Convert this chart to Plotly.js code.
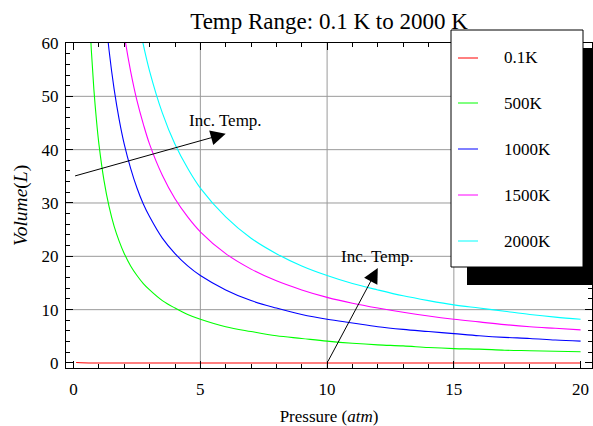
<!DOCTYPE html>
<html>
<head>
<meta charset="utf-8">
<script src="https://cdn.plot.ly/plotly-3.0.1.min.js"></script>
<style>html,body{margin:0;padding:0;background:#fff;}#chart{width:593px;height:426px;}</style>
</head>
<body>
<div id="chart"></div>
<script>
// Pressure (atm) sample points
const pressure = [0.1, 0.6, 0.7, 0.8, 0.9, 1.0, 1.2, 1.4, 1.6, 1.8, 2.0, 2.25, 2.5, 2.75, 3, 3.5, 4, 4.5, 5, 6, 7, 8, 9, 10, 11, 12, 13, 14, 15, 16, 17, 18, 19, 20];
// Volume (L) read for each temperature
const vol_01K   = [0.08, 0.01, 0.01, 0.01, 0.01, 0.01, 0.01, 0.01, 0.01, 0.0, 0.0, 0.0, 0.0, 0.0, 0.0, 0.0, 0.0, 0.0, 0.0, 0.0, 0.0, 0.0, 0.0, 0.0, 0.0, 0.0, 0.0, 0.0, 0.0, 0.0, 0.0, 0.0, 0.0, 0.0];
const vol_500K  = [null, 68.4, 58.6, 51.3, 45.6, 41.0, 34.2, 29.3, 25.6, 22.8, 20.5, 18.2, 16.4, 14.9, 13.7, 11.7, 10.3, 9.1, 8.2, 6.8, 5.9, 5.1, 4.6, 4.1, 3.7, 3.4, 3.2, 2.9, 2.7, 2.6, 2.4, 2.3, 2.2, 2.1];
const vol_1000K = [null, null, null, null, null, null, 68.4, 58.6, 51.3, 45.6, 41.0, 36.5, 32.8, 29.8, 27.4, 23.4, 20.5, 18.2, 16.4, 13.7, 11.7, 10.3, 9.1, 8.2, 7.5, 6.8, 6.3, 5.9, 5.5, 5.1, 4.8, 4.6, 4.3, 4.1];
const vol_1500K = [null, null, null, null, null, null, null, null, null, 68.4, 61.5, 54.7, 49.2, 44.8, 41.0, 35.2, 30.8, 27.4, 24.6, 20.5, 17.6, 15.4, 13.7, 12.3, 11.2, 10.3, 9.5, 8.8, 8.2, 7.7, 7.2, 6.8, 6.5, 6.2];
const vol_2000K = [null, null, null, null, null, null, null, null, null, null, null, null, 65.6, 59.7, 54.7, 46.9, 41.0, 36.5, 32.8, 27.4, 23.4, 20.5, 18.2, 16.4, 14.9, 13.7, 12.6, 11.7, 10.9, 10.3, 9.7, 9.1, 8.6, 8.2];

const seriesNames = ['0.1K', '500K', '1000K', '1500K', '2000K'];
const seriesValues = [vol_01K, vol_500K, vol_1000K, vol_1500K, vol_2000K];
const seriesColors = ['#ff0000', '#00ff00', '#0000ff', '#ff00ff', '#00ffff'];

const xTicks = [0, 5, 10, 15, 20];
const yTicks = [0, 10, 20, 30, 40, 50, 60];
const xGrid = [5, 10, 15];
const yGrid = [10, 20, 30, 40, 50];

const FONT = 'Liberation Serif, Times New Roman, serif';
const W = 593, H = 426;
const M = {l: 66, r: 1, t: 43, b: 58};
const PW = W - M.l - M.r, PH = H - M.t - M.b;
const px = x => (x - M.l) / PW;
const py = y => (H - M.b - y) / PH;

const traces = seriesNames.map((n, i) => ({
  type: 'scatter', mode: 'lines', name: n,
  x: pressure, y: seriesValues[i],
  line: {color: seriesColors[i], width: 1.1, shape: 'spline', smoothing: 1},
  connectgaps: false, hoverinfo: 'skip'
}));

const shapes = [];
xGrid.forEach(v => shapes.push({type: 'line', layer: 'below', xref: 'x', yref: 'paper', x0: v, x1: v, y0: 0, y1: 1, line: {color: '#9a9a9a', width: 1}}));
yGrid.forEach(v => shapes.push({type: 'line', layer: 'below', xref: 'paper', yref: 'y', x0: 0, x1: 1, y0: v, y1: v, line: {color: '#9a9a9a', width: 1}}));

// legend box with drop shadow
const LB = {x0: 451, x1: 583, y0: 30, y1: 267, off: 16, off2: 18};
shapes.push({type: 'rect', layer: 'above', xref: 'paper', yref: 'paper', x0: px(LB.x0 + LB.off), x1: px(LB.x1 + LB.off), y0: py(LB.y0 + LB.off2), y1: py(LB.y1 + LB.off2), fillcolor: '#000', line: {width: 0}});
shapes.push({type: 'rect', layer: 'above', xref: 'paper', yref: 'paper', x0: px(LB.x0), x1: px(LB.x1), y0: py(LB.y0), y1: py(LB.y1), fillcolor: '#fff', line: {color: '#000', width: 1}});

const legendY = [58, 103, 149, 195, 241];
const annotations = [];
seriesNames.forEach((n, i) => {
  shapes.push({type: 'line', layer: 'above', xref: 'paper', yref: 'paper', x0: px(458), x1: px(478), y0: py(legendY[i]), y1: py(legendY[i]), line: {color: seriesColors[i], width: 1}});
  annotations.push({xref: 'paper', yref: 'paper', x: px(502), y: py(legendY[i]), xanchor: 'left', yanchor: 'middle', text: n, showarrow: false, font: {family: FONT, size: 17, color: '#000'}});
});

// arrows
annotations.push({xref: 'x', yref: 'y', axref: 'x', ayref: 'y', x: 6, y: 43, ax: 0, ay: 35, text: '', showarrow: true, arrowhead: 2, arrowsize: 3, arrowwidth: 1, arrowcolor: '#000', standoff: 0, startstandoff: 0});
annotations.push({xref: 'x', yref: 'y', x: 6, y: 45.4, text: 'Inc. Temp.', showarrow: false, font: {family: FONT, size: 17, color: '#000'}});
annotations.push({xref: 'x', yref: 'y', axref: 'x', ayref: 'y', x: 12, y: 17.8, ax: 10, ay: 0, text: '', showarrow: true, arrowhead: 2, arrowsize: 3, arrowwidth: 1, arrowcolor: '#000', standoff: 0, startstandoff: 0});
annotations.push({xref: 'x', yref: 'y', x: 12, y: 20, text: 'Inc. Temp.', showarrow: false, font: {family: FONT, size: 17, color: '#000'}});

const axisCommon = {
  showgrid: false, zeroline: false, showline: true, linecolor: '#000', linewidth: 1, mirror: 'ticks',
  ticks: 'inside', ticklen: 7, tickwidth: 1, tickcolor: '#000',
  tickfont: {family: FONT, size: 17, color: '#000'}
};

const layout = {
  width: W, height: H, margin: M,
  paper_bgcolor: '#fff', plot_bgcolor: '#fff', showlegend: false,
  title: {text: 'Temp Range: 0.1 K to 2000 K', font: {family: FONT, size: 23, color: '#000'}, x: 0.5, xref: 'paper', xanchor: 'center', y: 1 - 21 / H, yref: 'container', yanchor: 'middle'},
  xaxis: Object.assign({}, axisCommon, {
    range: [-0.3, 20.45], tickmode: 'array', tickvals: xTicks, ticktext: xTicks.map(String),
    minor: {dtick: 1, ticks: 'inside', ticklen: 4, tickcolor: '#000', showgrid: false},
    ticklabelstandoff: 6,
    title: {text: 'Pressure (<i>atm</i>)', font: {family: FONT, size: 17, color: '#000'}, standoff: 18}
  }),
  yaxis: Object.assign({}, axisCommon, {
    range: [-0.94, 60], tickmode: 'array', tickvals: yTicks, ticktext: yTicks.map(String),
    minor: {dtick: 2, ticks: 'inside', ticklen: 4, tickcolor: '#000', showgrid: false},
    ticklabelstandoff: 3,
    title: {text: '<i>Volume</i>(<i>L</i>)', font: {family: FONT, size: 19.5, color: '#000'}, standoff: 8}
  }),
  shapes: shapes, annotations: annotations
};

Plotly.newPlot('chart', traces, layout, {staticPlot: true, displayModeBar: false});
</script>
</body>
</html>
